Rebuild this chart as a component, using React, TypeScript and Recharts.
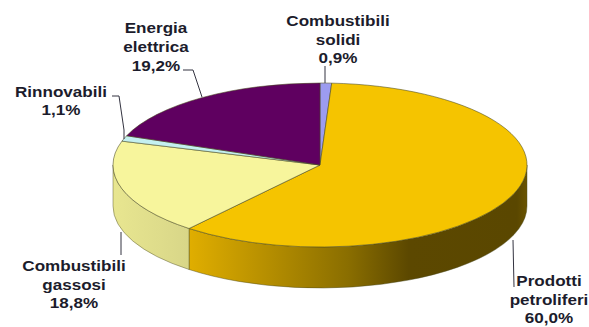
import React from "react";
import { PieChart, Pie } from "recharts";

// Final energy consumption by source, in percent
const sources = ["Combustibili solidi", "Prodotti petroliferi", "Combustibili gassosi", "Rinnovabili", "Energia elettrica"];
const shares = [0.9, 60.0, 18.8, 1.1, 19.2];
const labelLines = [
  ["Combustibili", "solidi"],
  ["Prodotti", "petroliferi"],
  ["Combustibili", "gassosi"],
  ["Rinnovabili"],
  ["Energia", "elettrica"],
];
const topColors = ["#9c9cf0", "#f5c400", "#f7f59c", "#c4f0f0", "#5f0060"];
const wallFills = ["#7c7cc0", "url(#wallPetroli)", "url(#wallGas)", "#9cc0c0", "#4c004c"];

// Label anchor (centre x, first baseline, line step) and leader polyline per slice
const labelAnchors = [
  { x: 338, y: 26, step: 18.5 },
  { x: 549, y: 286, step: 18.5 },
  { x: 74, y: 271, step: 18.5 },
  { x: 61, y: 97, step: 18 },
  { x: 156, y: 33, step: 19 },
];
const leaders = [
  "325,66 325,83",
  "513,240 514,287",
  "121,232 121,255",
  "112,96 119,96 124,130 124,139",
  "183,70 193,70 202,97",
];

const chartData = sources.map((name, i) => ({ name, value: shares[i], index: i }));

const CX = 320;
const CY = 165;
const RX = 207;
const RY = 82;
const DEPTH = 41;
const EDGE = "#4a4a20";

const pt = (deg: number, dy = 0) => {
  const a = (deg * Math.PI) / 180;
  return [CX + RX * Math.cos(a), CY - RY * Math.sin(a) + dy];
};

// Slice drawn as an elliptical top face plus its extruded front wall
const Slice3D = (props: any) => {
  const { startAngle, endAngle, index } = props;
  const [x1, y1] = pt(startAngle);
  const [x2, y2] = pt(endAngle);
  const large = Math.abs(startAngle - endAngle) > 180 ? 1 : 0;
  const top = `M${CX},${CY} L${x1},${y1} A${RX},${RY} 0 ${large} 1 ${x2},${y2} Z`;

  const wallStart = Math.min(startAngle, 0);
  const wallEnd = Math.max(endAngle, -180);
  let wall = null;
  if (wallStart > wallEnd) {
    const [a1, b1] = pt(wallStart);
    const [a2, b2] = pt(wallEnd);
    const d = `M${a1},${b1} A${RX},${RY} 0 0 1 ${a2},${b2} L${a2},${b2 + DEPTH} A${RX},${RY} 0 0 0 ${a1},${b1 + DEPTH} Z`;
    wall = <path d={d} fill={wallFills[index]} stroke={EDGE} strokeOpacity={0.55} strokeWidth={0.8} />;
  }
  return (
    <g>
      {wall}
      <path d={top} fill={topColors[index]} stroke={EDGE} strokeOpacity={0.7} strokeWidth={0.8} />
    </g>
  );
};

const textStyle = {
  fontFamily: "'Liberation Sans', Arial, sans-serif",
  fontWeight: 700,
  fontSize: 14,
  fill: "#1c1c2c",
};

const SliceLabel = (props: any) => {
  const i = props.index;
  const anchor = labelAnchors[i];
  const lines = [...labelLines[i], `${shares[i].toFixed(1).replace(".", ",")}%`];
  return (
    <g>
      <polyline points={leaders[i]} fill="none" stroke="#333340" strokeWidth={1} />
      {lines.map((line, k) => (
        <text
          key={k}
          transform={`translate(${anchor.x},${anchor.y + k * anchor.step}) scale(1.22,1)`}
          textAnchor="middle"
          style={textStyle}
        >
          {line}
        </text>
      ))}
    </g>
  );
};

export default function App() {
  return (
    <div style={{ position: "absolute", left: 0, top: 0, width: 589, height: 327, background: "#fff" }}>
      <PieChart width={589} height={327} margin={{ top: 0, right: 0, bottom: 0, left: 0 }}>
        <defs>
          <linearGradient id="wallPetroli" x1="0" y1="0" x2="1" y2="0">
            <stop offset="0" stopColor="#e0ae00" />
            <stop offset="0.47" stopColor="#8a6e00" />
            <stop offset="0.65" stopColor="#5c4800" />
            <stop offset="0.97" stopColor="#5a4700" />
            <stop offset="1" stopColor="#6a5400" />
          </linearGradient>
          <linearGradient id="wallGas" x1="0" y1="0" x2="1" y2="0">
            <stop offset="0" stopColor="#e8e690" />
            <stop offset="1" stopColor="#d8d688" />
          </linearGradient>
        </defs>
        <Pie
          data={chartData}
          dataKey="value"
          nameKey="name"
          cx={CX}
          cy={CY}
          innerRadius={0}
          outerRadius={RX}
          startAngle={90}
          endAngle={-270}
          shape={Slice3D}
          label={SliceLabel}
          labelLine={false}
          isAnimationActive={false}
        />
      </PieChart>
    </div>
  );
}
